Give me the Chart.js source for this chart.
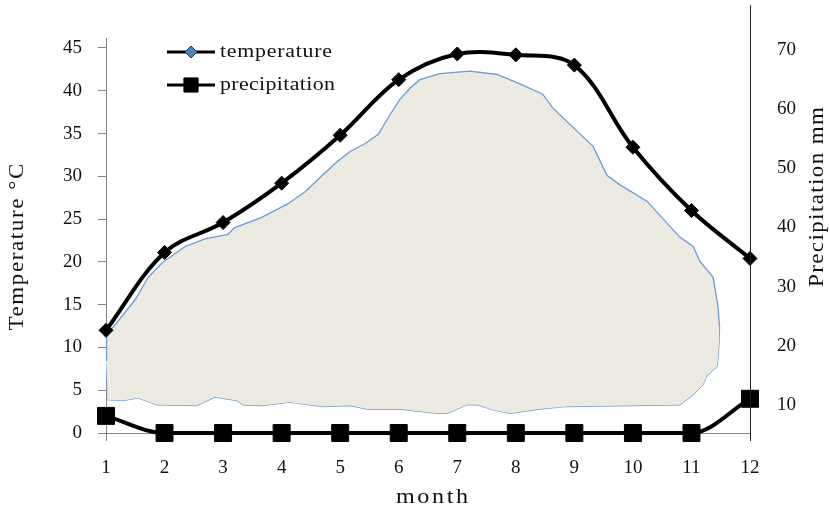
<!DOCTYPE html>
<html>
<head>
<meta charset="utf-8">
<script src="https://cdn.jsdelivr.net/npm/chart.js@4/dist/chart.umd.min.js"></script>
<style>
  html, body { margin: 0; padding: 0; background: #fff; }
  #wrap { width: 830px; height: 515px; }
</style>
</head>
<body>
<div id="wrap"><canvas id="climate" width="830" height="515"></canvas></div>
<script>
// Monthly climate data
const months = [1, 2, 3, 4, 5, 6, 7, 8, 9, 10, 11, 12];
const temperature = [12, 21.1, 24.6, 29.2, 34.8, 41.3, 44.3, 44.2, 43.0, 33.4, 26.0, 20.4];
const precipitation = [2, 0, 0, 0, 0, 0, 0, 0, 0, 0, 0, 4];

// Tick labels
const tempTicks = [0, 5, 10, 15, 20, 25, 30, 35, 40, 45];
const precTicks = [10, 20, 30, 40, 50, 60, 70];

// Dry-season area: upper and lower outline (month, °C)
const dryUpperMonth = [1.00, 1.01, 1.15, 1.50, 1.72, 1.96, 2.35, 2.69, 3.08, 3.20, 3.66, 4.11, 4.40, 4.66, 4.96, 5.17, 5.42, 5.65, 5.85, 6.02, 6.19, 6.36, 6.70, 7.22, 7.68, 8.07, 8.46, 8.63, 8.92, 9.32, 9.56, 9.78, 10.24, 10.68, 10.80, 11.03, 11.14, 11.37, 11.45, 11.48];
const dryUpperTemp  = [8.5, 11.5, 12.6, 15.6, 18.2, 19.9, 21.8, 22.7, 23.2, 24.0, 25.2, 26.8, 28.2, 29.9, 31.8, 32.9, 33.8, 34.9, 37.2, 39.0, 40.3, 41.3, 42.0, 42.3, 41.9, 40.8, 39.6, 38.0, 36.1, 33.5, 30.1, 29.0, 27.1, 23.8, 22.9, 21.8, 20.1, 18.2, 14.9, 12.4];
const dryLowerMonth = [1.00, 1.02, 1.03, 1.29, 1.55, 1.87, 2.55, 2.86, 3.24, 3.34, 3.68, 4.14, 4.71, 5.17, 5.46, 6.02, 6.65, 6.82, 7.17, 7.35, 7.61, 7.90, 8.41, 8.87, 10.80, 11.03, 11.20, 11.26, 11.44, 11.47, 11.48];
const dryLowerTemp  = [8.5, 5.9, 3.9, 3.8, 4.1, 3.3, 3.2, 4.2, 3.8, 3.3, 3.2, 3.6, 3.1, 3.2, 2.8, 2.8, 2.3, 2.3, 3.3, 3.3, 2.7, 2.3, 2.8, 3.1, 3.3, 4.5, 5.7, 6.7, 7.8, 10.4, 12.4];

const SERIF = '"Liberation Serif", "Times New Roman", serif';
const AXIS_GREY = '#868686';

const pairs = (xs, ys) => xs.map((x, i) => ({ x, y: ys[i] }));

// Text spread out to a given length along its reading direction
function spreadText(ctx, text, x, y, length, angle, size, align) {
  ctx.save();
  ctx.font = size + 'px ' + SERIF;
  const w = ctx.measureText(text).width;
  const sx = Math.min(1.15, length / w);
  const gap = Math.max(0, (length / sx - w) / (text.length - 1));
  ctx.letterSpacing = gap.toFixed(2) + 'px';
  ctx.translate(x, y);
  ctx.rotate(angle);
  ctx.scale(sx, 1);
  ctx.textBaseline = 'middle';
  ctx.fillStyle = '#111';
  ctx.textAlign = 'left';
  const start = align === 'left' ? 0 : -length / sx / 2;
  ctx.fillText(text, start, 0);
  ctx.restore();
}

const keyEntries = [
  { label: 'temperature', style: 'rectRot', radius: 6, fill: '#4F81BD', stroke: '#1F3B5E', width: 112 },
  { label: 'precipitation', style: 'rect', radius: 10, fill: '#000', stroke: '#000', width: 115 }
];

const decorations = {
  id: 'decorations',
  afterDraw(chart) {
    const ctx = chart.ctx;
    const area = chart.chartArea;
    const y2 = chart.scales.y2;

    // secondary axis line
    ctx.save();
    ctx.strokeStyle = '#222';
    ctx.lineWidth = 1;
    ctx.beginPath();
    ctx.moveTo(Math.round(y2.left) + 0.5, 5);
    ctx.lineTo(Math.round(y2.left) + 0.5, area.bottom + 8);
    ctx.stroke();
    ctx.restore();

    // axis titles
    spreadText(ctx, 'Temperature °C', 18, 247, 167, -Math.PI / 2, 20);
    spreadText(ctx, 'Precipitation mm', 818, 197, 180, -Math.PI / 2, 20);
    spreadText(ctx, 'month', 432, 497, 72, 0, 21);

    // key
    keyEntries.forEach((e, i) => {
      const y = 52 + i * 33;
      ctx.save();
      ctx.strokeStyle = '#000';
      ctx.lineWidth = 3;
      ctx.beginPath();
      ctx.moveTo(167, y);
      ctx.lineTo(215, y);
      ctx.stroke();
      ctx.fillStyle = e.fill;
      ctx.strokeStyle = e.stroke;
      ctx.lineWidth = 1;
      Chart.helpers.drawPoint(ctx, { pointStyle: e.style, radius: e.radius, borderWidth: 1, rotation: 0 }, 191, y);
      ctx.restore();
      spreadText(ctx, e.label, 220, y, e.width, 0, 19, 'left');
    });
  }
};

new Chart(document.getElementById('climate'), {
  type: 'line',
  data: {
    datasets: [
      {
        label: 'temperature',
        data: pairs(months, temperature),
        yAxisID: 'y',
        clip: false,
        borderColor: '#000',
        borderWidth: 4,
        tension: 0.35,
        pointStyle: 'rectRot',
        pointRadius: 7,
        pointBackgroundColor: '#000',
        pointBorderColor: '#000',
        pointBorderWidth: 1,
        fill: false
      },
      {
        label: 'precipitation',
        data: pairs(months, precipitation),
        yAxisID: 'y',
        clip: false,
        borderColor: '#000',
        borderWidth: 4,
        cubicInterpolationMode: 'monotone',
        pointStyle: 'rect',
        pointRadius: 12,
        pointBackgroundColor: '#000',
        pointBorderColor: '#000',
        pointBorderWidth: 1,
        fill: false
      },
      {
        label: 'dry upper',
        data: pairs(dryUpperMonth, dryUpperTemp),
        yAxisID: 'y',
        borderColor: '#6C9BD2',
        borderWidth: 1.3,
        backgroundColor: '#ECEAE1',
        pointRadius: 0,
        tension: 0,
        fill: '+1'
      },
      {
        label: 'dry lower',
        data: pairs(dryLowerMonth, dryLowerTemp),
        yAxisID: 'y',
        borderColor: '#6C9BD2',
        borderWidth: 1.3,
        pointRadius: 0,
        tension: 0,
        fill: false
      }
    ]
  },
  options: {
    responsive: false,
    devicePixelRatio: 1,
    animation: false,
    layout: { padding: { top: 20, left: 0, right: 0, bottom: 0 } },
    plugins: {
      legend: { display: false },
      tooltip: { enabled: false }
    },
    scales: {
      x: {
        type: 'linear',
        min: 1,
        max: 12,
        afterFit: s => { s.height = 82; },
        afterBuildTicks: s => { s.ticks = months.map(v => ({ value: v })); },
        grid: { drawOnChartArea: false, drawTicks: true, tickLength: 8, color: AXIS_GREY },
        border: { display: true, color: AXIS_GREY, width: 1 },
        ticks: { padding: 16, color: '#111', font: { family: SERIF, size: 19 }, maxRotation: 0 }
      },
      y: {
        position: 'left',
        min: 0,
        max: 46.12,
        afterFit: s => { s.width = 106; },
        afterBuildTicks: s => { s.ticks = tempTicks.map(v => ({ value: v })); },
        grid: { drawOnChartArea: false, drawTicks: true, tickLength: 8, color: AXIS_GREY },
        border: { display: true, color: AXIS_GREY, width: 1 },
        ticks: { padding: 16, color: '#111', font: { family: SERIF, size: 19 } }
      },
      y2: {
        position: 'right',
        min: 5.33,
        max: 71.89,
        afterFit: s => { s.width = 80; },
        afterBuildTicks: s => { s.ticks = precTicks.map(v => ({ value: v })); },
        grid: { display: false, drawOnChartArea: false, drawTicks: false },
        border: { display: false },
        ticks: { padding: 27, color: '#111', font: { family: SERIF, size: 19 } }
      }
    }
  },
  plugins: [decorations]
});
</script>
</body>
</html>
